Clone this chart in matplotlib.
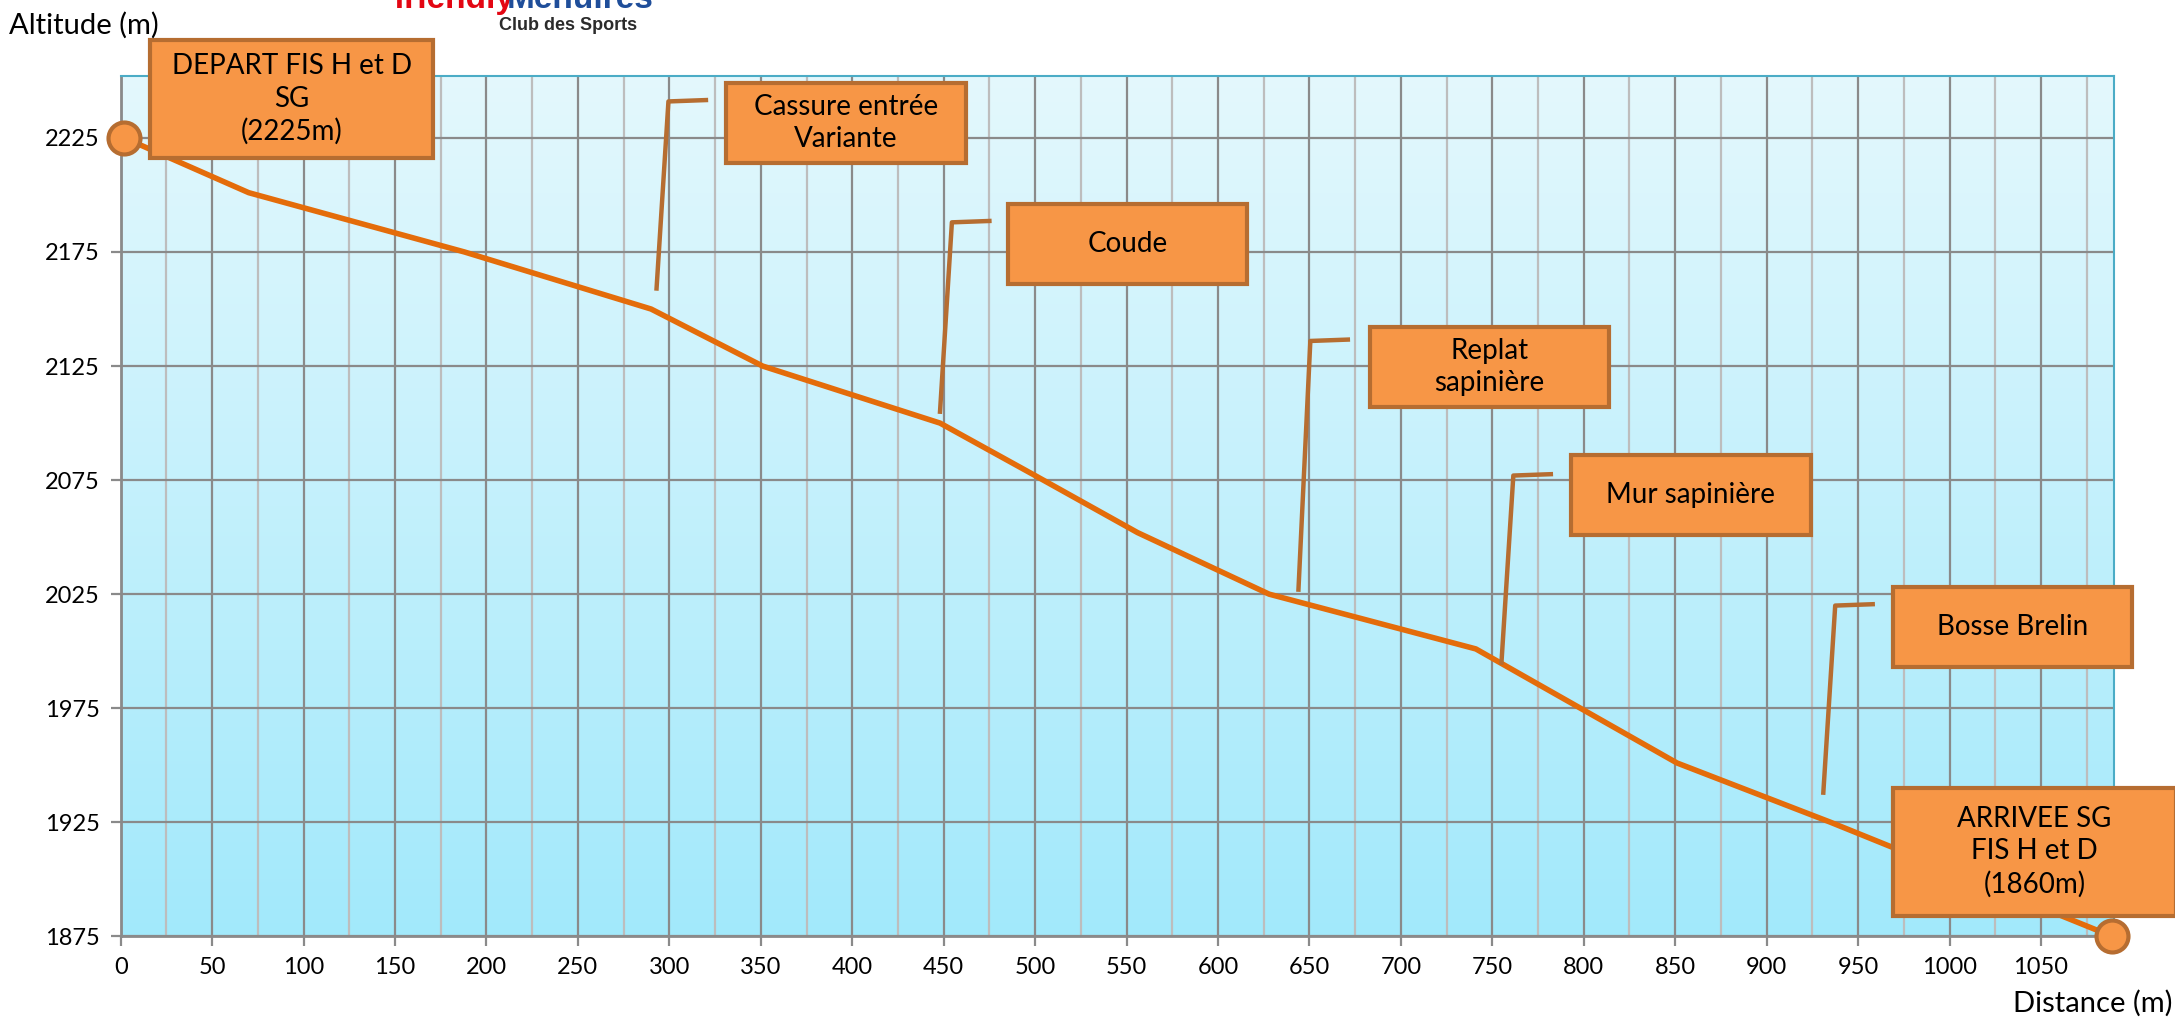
import numpy as np
import matplotlib
matplotlib.use('Agg')
import matplotlib.pyplot as plt
from matplotlib.colors import LinearSegmentedColormap
from matplotlib.patches import Rectangle

# profil de la piste (distance en m, altitude en m)
distance = [2, 70, 188, 290, 351, 448, 500, 556, 628, 741, 851, 935, 1089]
altitude = [2225, 2201, 2175, 2150, 2125, 2100, 2077, 2052, 2025, 2001, 1951, 1925, 1875]

x_ticks = list(range(0, 1051, 50))
y_ticks = list(range(1875, 2226, 50))

# points remarquables
labels = ['Cassure entrée\nVariante', 'Coude', 'Replat\nsapinière', 'Mur sapinière', 'Bosse Brelin']
leader_x = [293, 448, 644, 755, 931]
leader_low = [2159, 2105, 2027, 1995, 1938]
leader_high = [2241, 2188, 2136, 2077, 2020]

start_label = 'DEPART FIS H et D\nSG\n(2225m)'
end_label = 'ARRIVEE SG\nFIS H et D\n(1860m)'

# boxes (left, bottom, width, height) in data units
box_pos = [(331, 2214), (485, 2161), (683, 2107), (793, 2051), (969, 1993)]
box_w, box_h = 131, 35
start_box = (16, 2216, 155, 52)
end_box = (969, 1884, 155, 56)

orange = '#F79646'
brown = '#B66D31'
line_col = '#E46C0A'
font = 'Lato'

fig = plt.figure(figsize=(21.75, 10.22), dpi=100)
ax = fig.add_axes([0.0555, 0.0838, 0.9165, 0.8415])

# background gradient
cmap = LinearSegmentedColormap.from_list('bg', ['#A2E9FB', '#E4F8FD'])
grad = np.linspace(0, 1, 256).reshape(-1, 1)
ax.imshow(grad, cmap=cmap, extent=[0, 1, 0, 1], transform=ax.transAxes,
          aspect='auto', origin='lower', zorder=0)

ax.set_xlim(0, 1090)
ax.set_ylim(1875, 2252)
ax.set_xticks(x_ticks)
ax.set_yticks(y_ticks)
ax.set_xticks(np.arange(25, 1090, 50), minor=True)
ax.grid(which='major', color='#8A8A8A', linewidth=1.6, zorder=1)
ax.grid(which='minor', axis='x', color='#BDBDBD', linewidth=1.6, zorder=1)
ax.tick_params(which='major', direction='out', length=7, width=1.6, color='#8A8A8A',
               labelsize=17, pad=8)
ax.tick_params(which='minor', length=0)
for lab in ax.get_xticklabels() + ax.get_yticklabels():
    lab.set_fontfamily(font)

for s in ['left', 'bottom']:
    ax.spines[s].set_color('#8A8A8A')
    ax.spines[s].set_linewidth(2)
for s in ['top', 'right']:
    ax.spines[s].set_color('#4BACC6')
    ax.spines[s].set_linewidth(1.5)

ax.plot(distance, altitude, color=line_col, linewidth=4, zorder=3, solid_capstyle='butt')

# annotation leaders and boxes
for i in range(len(labels)):
    xs = [leader_x[i], leader_x[i] + 6.5, leader_x[i] + 27]
    ys = [leader_low[i], leader_high[i], leader_high[i] + 0.6]
    ax.plot(xs, ys, color=brown, linewidth=3.2, zorder=4, clip_on=False)
    bx, by = box_pos[i]
    ax.add_patch(Rectangle((bx, by), box_w, box_h, facecolor=orange, edgecolor=brown,
                           linewidth=3, zorder=5, clip_on=False))
    ax.text(bx + box_w / 2, by + box_h / 2, labels[i], ha='center', va='center',
            fontsize=20, family=font, linespacing=1.3, zorder=6, clip_on=False)

for (bx, by, bw, bh), txt in [(start_box, start_label), (end_box, end_label)]:
    ax.add_patch(Rectangle((bx, by), bw, bh, facecolor=orange, edgecolor=brown,
                           linewidth=3, zorder=5, clip_on=False))
    ax.text(bx + bw / 2, by + bh / 2, txt, ha='center', va='center',
            fontsize=20, family=font, linespacing=1.3, zorder=6, clip_on=False)

# start / end markers
ax.plot([distance[0], distance[-1]], [altitude[0], altitude[-1]], linestyle='none',
        marker='o', markersize=23, markerfacecolor=orange, markeredgecolor=brown,
        markeredgewidth=3, zorder=7, clip_on=False)

fig.text(0.004, 0.975, 'Altitude (m)', fontsize=21, family=font, va='center', ha='left')
fig.text(0.999, 0.018, 'Distance (m)', fontsize=21, family=font, va='center', ha='right')

# logo (cut at the top)
fig.text(0.181, 0.992, 'friendly', fontsize=24, fontweight='bold', color='#E30613',
         family='Liberation Sans', va='baseline', ha='left')
fig.text(0.233, 0.992, 'Menuires', fontsize=24, fontweight='bold', color='#1F4E9A',
         family='Liberation Sans', va='baseline', ha='left')
fig.text(0.261, 0.975, 'Club des Sports', fontsize=13, fontweight='bold', color='#2B2B2B',
         family=['Liberation Sans Narrow', 'Liberation Sans'], va='center', ha='center')

fig.savefig('out.png', dpi=100)
